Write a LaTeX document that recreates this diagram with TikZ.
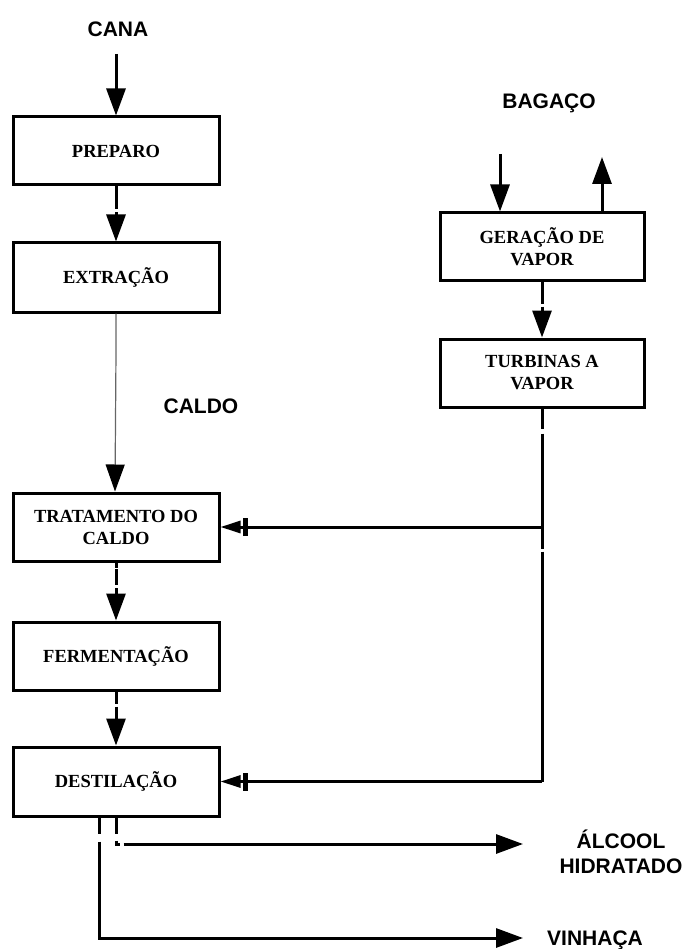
\documentclass[tikz,border=0pt]{standalone}
\usepackage{fontspec}
\setmainfont{Liberation Serif}
\newfontfamily\labelfont{Liberation Sans}
\usetikzlibrary{arrows.meta}
\begin{document}
\begin{tikzpicture}[x=1pt,y=-1pt,
  stage/.style={draw, line width=3pt, rectangle, minimum width=206pt, minimum height=68pt,
    inner sep=0pt, align=center, font=\fontsize{18.5}{22}\selectfont\bfseries},
  tag/.style={align=center, inner sep=0pt, font=\labelfont\fontsize{21}{25}\selectfont\bfseries},
  flow/.style={line width=3pt, -{Triangle[length=27pt,width=19pt]}},
  steam/.style={line width=3pt, -{Bar[width=18pt,line width=5pt,sep=2pt]Triangle[length=20pt,width=12pt]}},
  pipe/.style={line width=3pt}]
\useasboundingbox (0,0) rectangle (685,949);

% process stages
\node[stage] (prep) at (116,151) {PREPARO};
\node[stage, minimum height=69pt] (extr) at (116,277.5) {EXTRAÇÃO};
\node[stage] (trat) at (116,527) {TRATAMENTO DO\\CALDO};
\node[stage] (ferm) at (116,656) {FERMENTAÇÃO};
\node[stage, minimum height=69pt] (dest) at (116,781.5) {DESTILAÇÃO};
\node[stage, minimum width=204pt] (ger) at (542,247) {GERAÇÃO DE\\VAPOR};
\node[stage, minimum width=204pt] (turb) at (542,373) {TURBINAS A\\VAPOR};

% stream labels
\node[tag] (cana) at (118,29) {CANA};
\node[tag] (bag) at (549,103) {BAGAÇO};
\node[tag] (caldo) at (201,406) {CALDO};
\node[tag] (alc) at (621,852) {ÁLCOOL\\HIDRATADO};
\node[tag] (vin) at (595,940) {VINHAÇA};

% free ends
\coordinate (canaIn) at (116,54);
\coordinate (bagIn) at (500,154);
\coordinate (bagOut) at (602,157);
\coordinate (alcOut) at (523,844);
\coordinate (vinOut) at (523,938);
\coordinate (j1) at (turb.south |- trat.east);
\coordinate (j2) at (turb.south |- dest.east);

% main line
\draw[flow] (canaIn) -- (prep.north);
\draw[flow, dash pattern=on 23pt off 3pt on 60pt] (prep.south) -- (extr.north);
\draw[line width=1.2pt, draw=black!60, -{Triangle[length=27pt,width=19pt,color=black,fill=black]}]
  (extr.south) -- ++(0,38) -- ([xshift=-1pt]trat.north);
\draw[flow, dash pattern=on 5pt off 1.5pt on 16pt off 3pt on 60pt] (trat.south) -- (ferm.north);
\draw[flow, dash pattern=on 12pt off 3pt on 60pt] (ferm.south) -- (dest.north);

% bagasse and steam
\draw[flow] (bagIn) -- (bagIn |- ger.north);
\draw[flow] (bagOut |- ger.north) -- (bagOut);
\draw[flow, dash pattern=on 21pt off 3pt on 60pt] (ger.south) -- (turb.north);
\draw[pipe, dash pattern=on 20pt off 5pt on 115pt off 3pt on 400pt] (turb.south) -- (j2);
\draw[steam] (j1) -- (trat.east);
\draw[steam] (j2) -- (dest.east);

% products
\draw[flow, dash pattern=on 16pt off 7pt on 7pt off 4pt on 500pt]
  (dest.south) |- (alcOut);
\draw[flow, dash pattern=on 16pt off 8pt on 900pt]
  ([xshift=-17pt]dest.south) |- (vinOut);
\end{tikzpicture}
\end{document}
